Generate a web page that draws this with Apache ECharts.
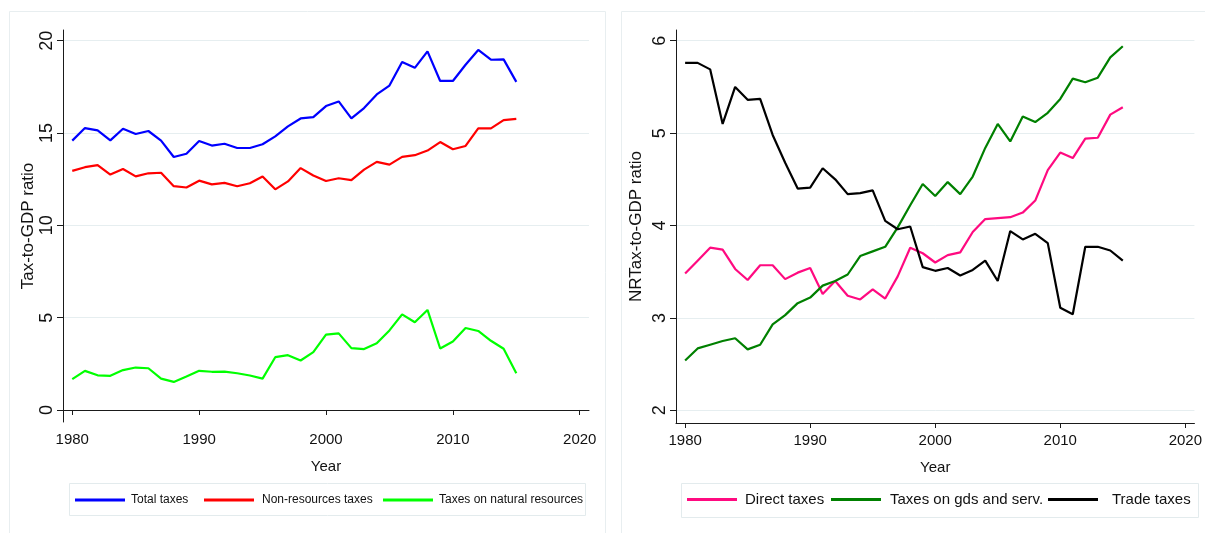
<!DOCTYPE html>
<html>
<head>
<meta charset="utf-8">
<script src="https://cdn.jsdelivr.net/npm/echarts@6/dist/echarts.min.js"></script>
<style>
html,body{margin:0;padding:0;background:#fff;}
#c{width:1205px;height:533px;}
</style>
</head>
<body>
<div id="c"></div>
<script>
const years = [1980,1981,1982,1983,1984,1985,1986,1987,1988,1989,1990,1991,1992,1993,1994,1995,1996,1997,1998,1999,2000,2001,2002,2003,2004,2005,2006,2007,2008,2009,2010,2011,2012,2013,2014,2015];

const totalTaxes = [14.59,15.27,15.14,14.60,15.23,14.95,15.11,14.59,13.70,13.88,14.57,14.32,14.42,14.19,14.19,14.39,14.82,15.36,15.79,15.86,16.46,16.71,15.79,16.35,17.09,17.57,18.85,18.53,19.42,17.82,17.82,18.70,19.50,18.97,18.99,17.77];
const nonResTaxes = [12.95,13.15,13.26,12.75,13.05,12.65,12.82,12.85,12.12,12.05,12.42,12.22,12.30,12.12,12.28,12.65,11.95,12.38,13.10,12.70,12.40,12.55,12.45,13.02,13.44,13.29,13.71,13.80,14.05,14.51,14.12,14.30,15.25,15.25,15.70,15.77];
const natResTaxes = [1.67,2.12,1.88,1.85,2.16,2.30,2.26,1.70,1.52,1.81,2.12,2.07,2.08,1.99,1.87,1.70,2.86,2.97,2.68,3.13,4.08,4.15,3.35,3.30,3.61,4.31,5.18,4.75,5.42,3.33,3.71,4.44,4.28,3.75,3.32,1.99];

const directTaxes = [3.48,3.62,3.76,3.74,3.53,3.41,3.57,3.57,3.42,3.49,3.54,3.26,3.40,3.24,3.20,3.31,3.21,3.45,3.76,3.70,3.60,3.68,3.71,3.93,4.07,4.08,4.09,4.14,4.27,4.60,4.79,4.73,4.94,4.95,5.20,5.28];
const gdsServTaxes = [2.54,2.67,2.71,2.75,2.78,2.66,2.71,2.93,3.03,3.16,3.22,3.35,3.40,3.47,3.67,3.72,3.77,3.98,4.22,4.45,4.32,4.47,4.34,4.53,4.84,5.10,4.91,5.18,5.12,5.22,5.37,5.59,5.55,5.60,5.82,5.94];
const tradeTaxes = [5.76,5.76,5.69,5.10,5.50,5.36,5.37,4.98,4.68,4.40,4.41,4.62,4.50,4.34,4.35,4.38,4.05,3.96,3.99,3.55,3.51,3.54,3.46,3.52,3.62,3.40,3.94,3.85,3.91,3.81,3.11,3.04,3.77,3.77,3.73,3.62];

const xTicks = [1980,1990,2000,2010,2020];
const yTicksLeft = [0,5,10,15,20];
const yTicksRight = [2,3,4,5,6];

const pair = arr => years.map((y,i)=>[y,arr[i]]);

const sans = '"Liberation Sans", Arial, sans-serif';
const gridColor = '#e6eef0';
const axisColor = '#1a1a1a';

function xAxis(gi){
  return {
    type:'value', gridIndex:gi, min:1979.27, max:2020.73,
    name:'Year', nameLocation:'middle', nameGap:37,
    nameTextStyle:{fontFamily:sans, fontSize:15, color:'#111'},
    axisLine:{show:true, lineStyle:{color:axisColor, width:1}},
    axisTick:{show:true, length:5, customValues:xTicks, lineStyle:{color:axisColor}},
    axisLabel:{customValues:xTicks, formatter:v=>String(v), fontFamily:sans, fontSize:15, color:'#111', margin:10},
    splitLine:{show:false}
  };
}
function yAxis(gi, min, max, ticks, name, gap){
  return {
    type:'value', gridIndex:gi, min:min, max:max,
    name:name, nameLocation:'middle', nameGap:gap, nameRotate:90,
    nameTextStyle:{fontFamily:sans, fontSize:17, color:'#111'},
    axisLine:{show:true, lineStyle:{color:axisColor, width:1}},
    axisTick:{show:true, length:6, customValues:ticks, lineStyle:{color:axisColor}},
    axisLabel:{customValues:ticks, formatter:v=>String(v), rotate:90, fontFamily:sans, fontSize:18, color:'#111', margin:7},
    splitLine:{show:true, lineStyle:{color:gridColor, width:1}}
  };
}
function line(name, data, color, xi, yi){
  return {type:'line', name:name, data:data, xAxisIndex:xi, yAxisIndex:yi,
    showSymbol:false, symbol:'none', lineStyle:{color:color, width:2.2}, itemStyle:{color:color},
    emphasis:{disabled:true}, animation:false};
}
function leg(name, left, top, size, padLeft){
  return {data:[name], left:left, top:top, orient:'horizontal', icon:'rect',
    itemWidth:50, itemHeight:3, itemGap:0, padding:0,
    textStyle:{fontFamily:sans, fontSize:size, color:'#111', padding:[0,0,0,padLeft]}};
}

const chart = echarts.init(document.getElementById('c'), null, {renderer:'canvas'});
chart.setOption({
  backgroundColor:'#ffffff',
  animation:false,
  grid:[
    {left:63, top:30, width:526, height:392},
    {left:676, top:30, width:526, height:393}
  ],
  xAxis:[xAxis(0), xAxis(1)],
  yAxis:[
    yAxis(0, -0.65, 20.58, yTicksLeft, 'Tax-to-GDP ratio', 26),
    yAxis(1, 1.863, 6.116, yTicksRight, 'NRTax-to-GDP ratio', 31)
  ],
  legend:[
    leg('Total taxes', 75, 494, 12, 1),
    leg('Non-resources taxes', 204, 494, 12, 3),
    leg('Taxes on natural resources', 383, 494, 12, 1),
    leg('Direct taxes', 687, 492, 15, 3),
    leg('Taxes on gds and serv.', 831, 492, 15, 4),
    leg('Trade taxes', 1048, 492, 15, 9)
  ],
  graphic:[
    {type:'rect', shape:{x:9.5, y:11.5, width:596, height:530}, style:{fill:'none', stroke:'#e8eef0', lineWidth:1}, z:-1},
    {type:'rect', shape:{x:621.5, y:11.5, width:600, height:530}, style:{fill:'none', stroke:'#e8eef0', lineWidth:1}, z:-1},
    {type:'rect', shape:{x:69.5, y:483.5, width:516, height:32}, style:{fill:'none', stroke:'#e3ebed', lineWidth:1}, z:-1},
    {type:'rect', shape:{x:681.5, y:483.5, width:517, height:34}, style:{fill:'none', stroke:'#e3ebed', lineWidth:1}, z:-1}
  ],
  series:[
    line('Total taxes', pair(totalTaxes), '#0000ff', 0, 0),
    line('Non-resources taxes', pair(nonResTaxes), '#ff0000', 0, 0),
    line('Taxes on natural resources', pair(natResTaxes), '#00ff00', 0, 0),
    line('Direct taxes', pair(directTaxes), '#ff0a80', 1, 1),
    line('Taxes on gds and serv.', pair(gdsServTaxes), '#008000', 1, 1),
    line('Trade taxes', pair(tradeTaxes), '#000000', 1, 1)
  ]
});
</script>
</body>
</html>
